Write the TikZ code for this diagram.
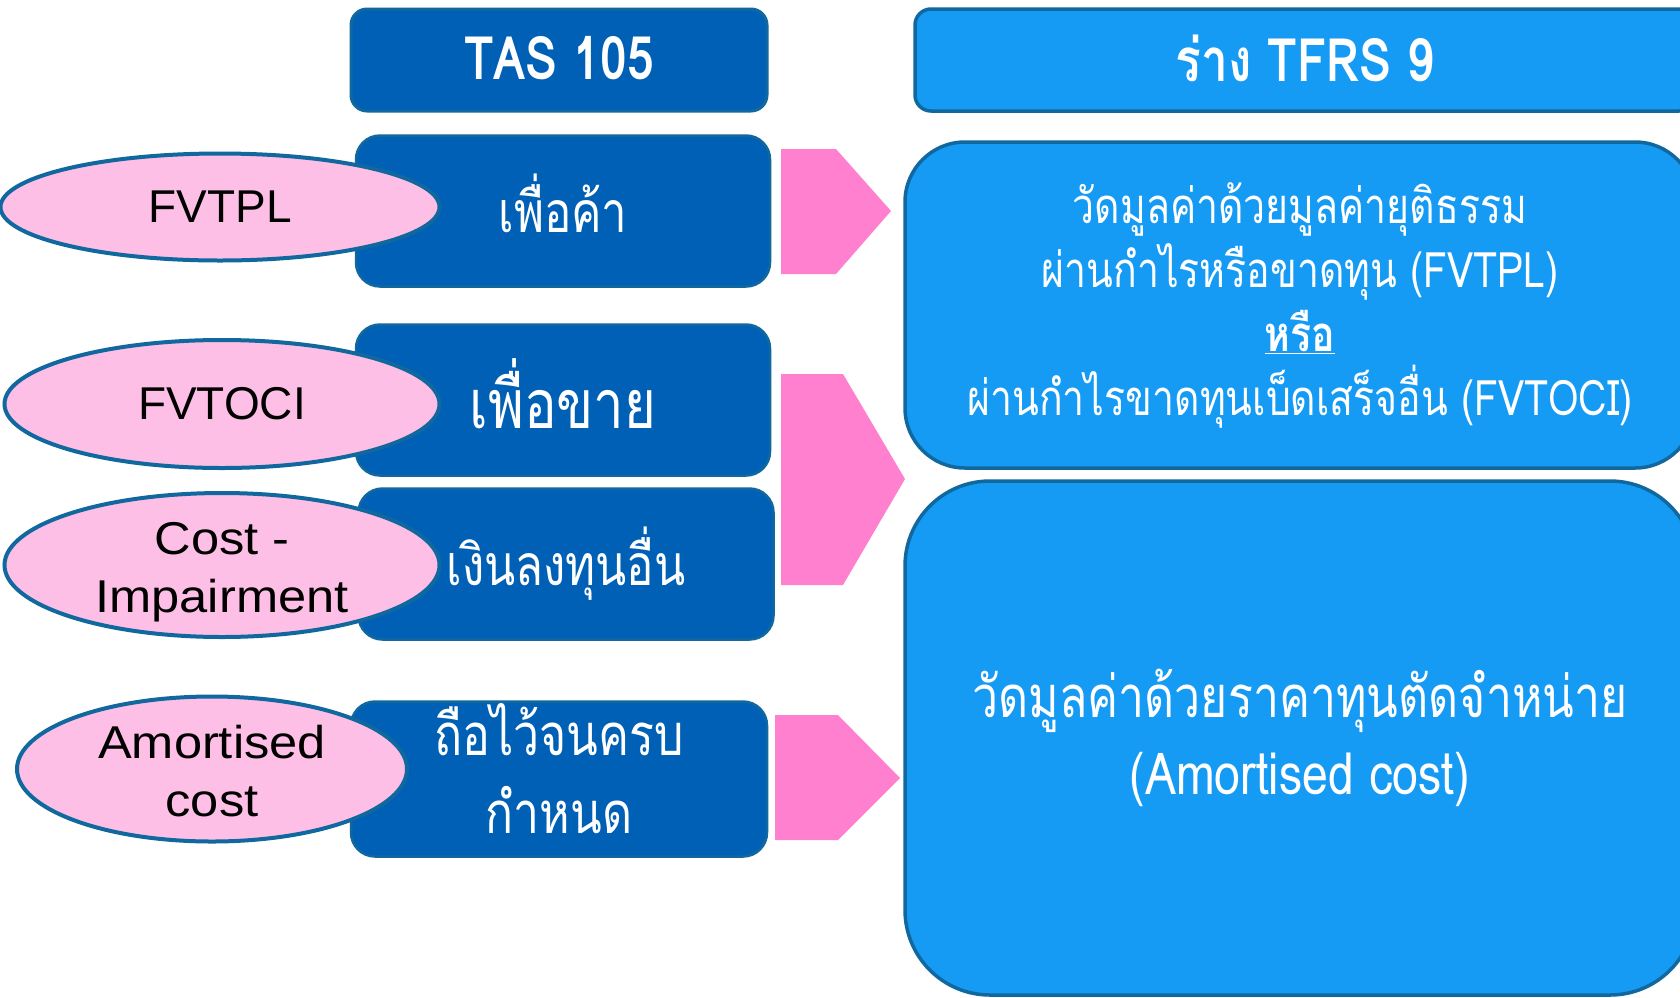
\documentclass[tikz,border=0pt]{standalone}
\usepackage{fontspec}
\usetikzlibrary{shapes.geometric}
\setmainfont{Liberation Sans}
\newfontfamily\widesans[FakeStretch=1.1]{Liberation Sans}
\newfontfamily\thai[Script=Thai,FakeStretch=0.8]{Loma}
\definecolor{dkblue}{RGB}{0,96,182}
\definecolor{ltblue}{RGB}{22,155,245}
\definecolor{edge}{RGB}{16,104,158}
\definecolor{pinkarrow}{RGB}{255,128,207}
\definecolor{pinkell}{RGB}{253,191,230}
\tikzset{
  hdrdark/.style={draw=edge, line width=3pt, fill=dkblue, rounded corners=16pt, text=white, inner sep=0pt},
  hdrlight/.style={draw=edge, line width=3.5pt, fill=ltblue, rounded corners=16pt, text=white, inner sep=0pt},
  tasbox/.style={draw=edge, line width=2.5pt, fill=dkblue, rounded corners=24pt, text=white, inner sep=0pt, align=center},
  bigbox/.style={draw=edge, line width=3.5pt, fill=ltblue, text=white, inner sep=0pt, align=center},
  ell/.style={ellipse, draw=edge, line width=4pt, fill=pinkell, inner sep=0pt, align=center, font=\fontsize{46}{58}\selectfont},
  chev/.style={fill=pinkarrow}
}
\begin{document}
\begin{tikzpicture}[x=1pt,y=-1pt]
\useasboundingbox (0,0) rectangle (1680,997);
\clip (0,0) rectangle (1680,997);
\fill[white] (0,0) rectangle (1680,997);
% headers
\node[hdrdark, minimum width=416pt, minimum height=102pt] (tas) at (559,60) {\raisebox{4pt}{\thai\bfseries\fontsize{60}{64}\selectfont TAS 105}};
\node[hdrlight, minimum width=780pt, minimum height=102pt] (tfrs) at (1305,60) {\raisebox{4pt}{\thai\bfseries\fontsize{60}{64}\selectfont ร่าง TFRS 9}};
% left boxes
\node[tasbox, minimum width=414pt, minimum height=151pt, font=\thai\fontsize{57}{60}\selectfont] (trade) at (563,211) {\raisebox{16pt}{เพื่อค้า}};
\node[tasbox, minimum width=414pt, minimum height=151pt, font=\thai\fontsize{68}{72}\selectfont] (sale) at (563,400) {\raisebox{12pt}{เพื่อขาย}};
\node[tasbox, minimum width=415pt, minimum height=151pt, font=\thai\fontsize{57}{60}\selectfont] (other) at (566,564) {\raisebox{7pt}{เงินลงทุนอื่น}};
\node[tasbox, minimum width=416pt, minimum height=151pt, font=\thai\fontsize{58}{77}\selectfont] (htm) at (559,779) {\raisebox{3pt}{\begin{tabular}{@{}c@{}}ถือไว้จนครบ\\[1pt]กำหนด\end{tabular}}};
% ellipses
\node[ell, minimum width=439pt, minimum height=107pt] (fvtpl) at (220,207) {FVTPL};
\node[ell, minimum width=435pt, minimum height=128pt] (fvtoci) at (222,404) {FVTOCI};
\node[ell, minimum width=435pt, minimum height=144pt, font=\widesans\fontsize{46}{58}\selectfont] (cost) at (222,565) {\raisebox{-13pt}[0pt][0pt]{\begin{tabular}{@{}c@{}}Cost -\\[0pt]Impairment\end{tabular}}};
\node[ell, minimum width=390pt, minimum height=145pt, font=\widesans\fontsize{46}{58}\selectfont] (amort) at (212,769) {\raisebox{-13pt}[0pt][0pt]{\begin{tabular}{@{}c@{}}Amortised\\[0pt]cost\end{tabular}}};
% chevrons
\fill[chev] (781,149) -- (836,149) -- (891,211) -- (836,274) -- (781,274) -- cycle;
\fill[chev] (781,374) -- (843,374) -- (905,479) -- (843,585) -- (781,585) -- cycle;
\fill[chev] (775,715) -- (838,715) -- (900,778) -- (838,840) -- (775,840) -- cycle;
% right boxes
\node[bigbox, rounded corners=60pt, minimum width=790pt, minimum height=326pt, font=\thai\fontsize{49}{64}\selectfont] (fvbox) at (1300,305)
 {วัดมูลค่าด้วยมูลค่ายุติธรรม\\ผ่านกำไรหรือขาดทุน (FVTPL)\\{\bfseries\underline{หรือ}}\\ผ่านกำไรขาดทุนเบ็ดเสร็จอื่น (FVTOCI)};
\node[bigbox, rounded corners=85pt, minimum width=790pt, minimum height=514pt, font=\thai\fontsize{58}{77}\selectfont] (acbox) at (1300,738)
 {วัดมูลค่าด้วยราคาทุนตัดจำหน่าย\\(Amortised cost)};
\end{tikzpicture}
\end{document}
